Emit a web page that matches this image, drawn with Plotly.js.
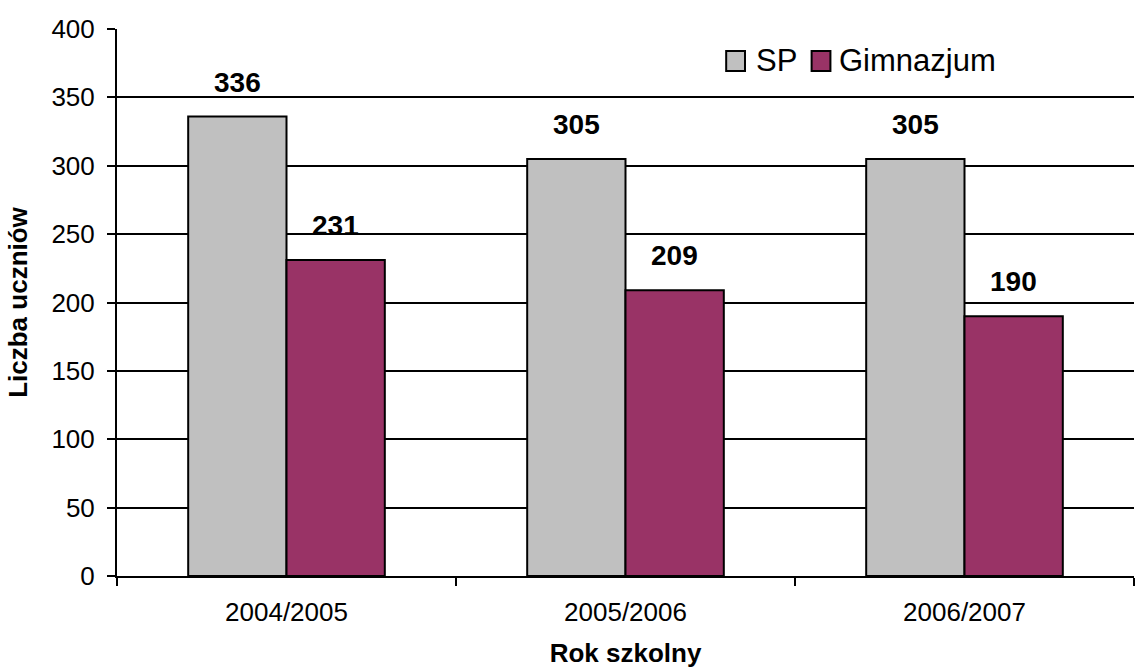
<!DOCTYPE html>
<html>
<head>
<meta charset="utf-8">
<script src="https://cdn.plot.ly/plotly-3.0.1.min.js"></script>
<style>html,body{margin:0;padding:0;background:#fff;}#chart{width:1138px;height:668px;}</style>
</head>
<body>
<div id="chart"></div>
<script>
const categories = ["2004/2005", "2005/2006", "2006/2007"];
const spValues = [336, 305, 305];
const gimValues = [231, 209, 190];
const seriesNames = ["SP", "Gimnazjum"];
const seriesColors = ["#C0C0C0", "#993366"];

const FONT = "Liberation Sans, Arial, sans-serif";
const traces = [spValues, gimValues].map((vals, si) => ({
  type: "bar", name: seriesNames[si], x: categories, y: vals,
  marker: {color: seriesColors[si], line: {color: "#000", width: 2}},
  showlegend: false
}));

const annotations = [];
[spValues, gimValues].forEach((vals, si) => {
  vals.forEach((v, i) => {
    annotations.push({
      x: categories[i], y: v, xref: "x", yref: "y",
      text: "<b>" + v + "</b>", showarrow: false,
      yanchor: "bottom", xshift: si === 0 ? -49 : 49, yshift: 17,
      font: {family: FONT, size: 28, color: "#000"}
    });
  });
});

// manual legend (larger squares, like the original)
const legendX = [[0.599, 0.6175], [0.683, 0.7015]];
const legendTextX = [0.626, 0.708];
const shapes = [];
seriesNames.forEach((name, si) => {
  shapes.push({type: "rect", xref: "paper", yref: "paper",
    x0: legendX[si][0], x1: legendX[si][1], y0: 0.923, y1: 0.96,
    fillcolor: seriesColors[si], line: {color: "#000", width: 2}});
  annotations.push({xref: "paper", yref: "paper", x: legendTextX[si], y: 0.943,
    xanchor: "left", yanchor: "middle", showarrow: false, text: name,
    font: {family: FONT, size: 31, color: "#000"}});
});

const layout = {
  width: 1138, height: 668,
  margin: {l: 117, r: 4, t: 29, b: 92},
  paper_bgcolor: "#fff", plot_bgcolor: "#fff",
  barmode: "group", bargap: 0.42, bargroupgap: 0,
  font: {family: FONT, color: "#000"},
  showlegend: false,
  xaxis: {type: "category", tickson: "boundaries", ticks: "outside", ticklen: 8,
          tickwidth: 2, tickcolor: "#000", showline: true, linecolor: "#000", linewidth: 2,
          tickfont: {family: FONT, size: 26}, ticklabelstandoff: 12, automargin: false,
          title: {text: "<b>Rok szkolny</b>", font: {family: FONT, size: 26}, standoff: 24}},
  yaxis: {range: [0, 400], dtick: 50, ticks: "outside", ticklen: 8, tickwidth: 2,
          tickcolor: "#000", showline: true, linecolor: "#000", linewidth: 2,
          showgrid: true, gridcolor: "#000", gridwidth: 2, zeroline: false,
          tickfont: {family: FONT, size: 26}, ticklabelstandoff: 7, automargin: false,
          title: {text: "<b>Liczba uczniów</b>", font: {family: FONT, size: 26}, standoff: 16}},
  annotations: annotations,
  shapes: shapes
};

Plotly.newPlot("chart", traces, layout, {displayModeBar: false, staticPlot: true});
</script>
</body>
</html>
